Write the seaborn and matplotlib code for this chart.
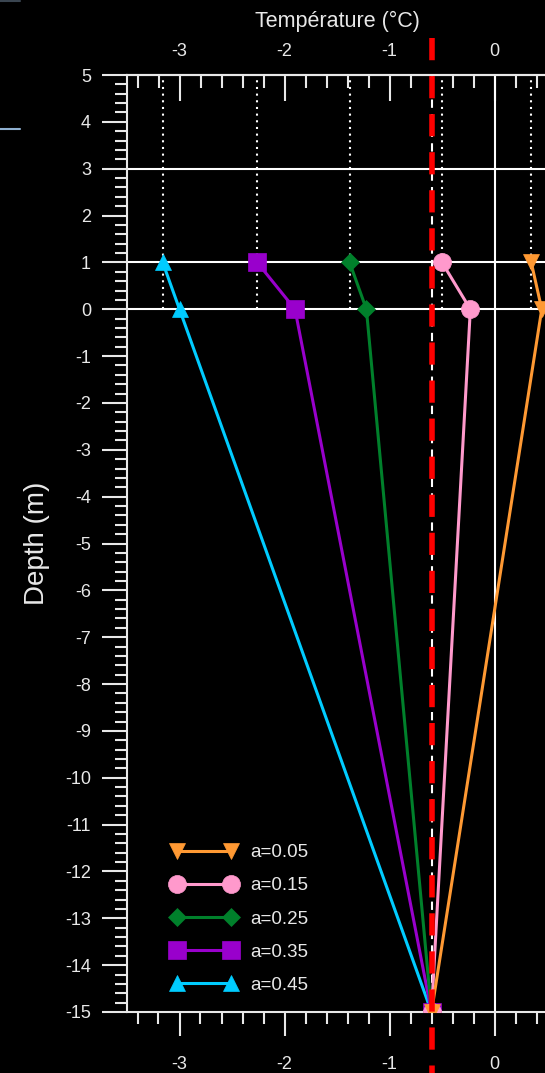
import matplotlib
matplotlib.use("Agg")
import matplotlib.pyplot as plt
from matplotlib.ticker import MultipleLocator, FixedLocator
from matplotlib.lines import Line2D
import seaborn as sns
import pandas as pd

# Ground temperature profiles (depth in m, temperature in °C) for each coefficient a
depths = [1, 0, -15]
alpha_labels = ["a=0.05", "a=0.15", "a=0.25", "a=0.35", "a=0.45"]
temp_a005 = [0.35, 0.45, -0.6]
temp_a015 = [-0.50, -0.23, -0.6]
temp_a025 = [-1.38, -1.22, -0.6]
temp_a035 = [-2.26, -1.90, -0.6]
temp_a045 = [-3.16, -3.00, -0.6]
freezing_temp = -0.6
grid_depths = [3, 1, 0]
temp_ticks = [-3, -2, -1, 0]

series_temps = [temp_a005, temp_a015, temp_a025, temp_a035, temp_a045]
colors = ["#FF9933", "#FF99CC", "#00802B", "#9900CC", "#00CCFF"]
markers = ["v", "o", "D", "s", "^"]
marker_sizes = [12, 13, 9, 13, 12]

rows = []
for lab, temps in zip(alpha_labels, series_temps):
    for d, t in zip(depths, temps):
        rows.append({"a": lab, "depth": d, "temp": t})
df = pd.DataFrame(rows)

sns.set_theme(style="ticks")
plt.rcParams["font.family"] = ["Liberation Sans", "DejaVu Sans"]
plt.rcParams["axes.unicode_minus"] = False

fg = "#E8E8E8"
fig = plt.figure(figsize=(5.45, 10.73), dpi=100, facecolor="black")
ax = fig.add_axes([127 / 545, 61 / 1073, 420 / 545, 937 / 1073])
ax.set_facecolor("black")

# profiles, drawn from the largest a so the smallest ends up on top
for i in reversed(range(len(alpha_labels))):
    sub = df[df["a"] == alpha_labels[i]]
    sns.lineplot(data=sub, x="temp", y="depth", ax=ax, sort=False, estimator=None,
                 color=colors[i], marker=markers[i], markersize=marker_sizes[i],
                 mec=colors[i], mew=0.5, lw=2.2, label=alpha_labels[i], zorder=4,
                 legend=False)

# reference lines
for g in grid_depths:
    ax.axhline(g, color="white", lw=1.5, zorder=1.5)
ax.axvline(0, color="white", lw=1.5, zorder=1.5)
surface_temps = [t[0] for t in series_temps]
ax.vlines(surface_temps, min(grid_depths), 5, colors="white", lw=1.5,
          linestyles=(0, (1, 2.2)), zorder=2)
ax.axvline(freezing_temp, color="white", lw=1.5, ls=(0, (4, 3)), zorder=2.5)
# freezing line, dashed from the top and running past both axis edges
ax.plot([freezing_temp, freezing_temp], [1.0395, -0.075], transform=ax.get_xaxis_transform(),
        color="#FF0000", lw=4, ls=(0, (4, 2.85)), clip_on=False, zorder=10)

ax.set_xlim(-3.5, 0.5)
ax.set_ylim(-15, 5)
ax.set_xlabel("")
ax.set_ylabel("")

# axes and ticks
for side in ["left", "bottom", "top"]:
    ax.spines[side].set_color(fg)
    ax.spines[side].set_linewidth(1.5)
ax.spines["right"].set_visible(False)

ax.xaxis.set_major_locator(FixedLocator(temp_ticks))
ax.xaxis.set_minor_locator(MultipleLocator(0.2))
ax.yaxis.set_major_locator(MultipleLocator(1))
ax.yaxis.set_minor_locator(MultipleLocator(0.2))
ax.tick_params(axis="x", which="major", direction="out", length=17, width=1.5,
               colors=fg, labelsize=13, pad=15, top=False, labeltop=False)
ax.tick_params(axis="x", which="minor", direction="out", length=8.5, width=1.5,
               colors=fg, top=False)
ax.tick_params(axis="y", which="major", direction="out", length=18, width=1.5,
               colors=fg, labelsize=13, pad=8, right=False)
ax.tick_params(axis="y", which="minor", direction="out", length=8.5, width=1.5,
               colors=fg, right=False)

sec = ax.secondary_xaxis("top")
sec.xaxis.set_major_locator(FixedLocator(temp_ticks))
sec.xaxis.set_minor_locator(MultipleLocator(0.2))
sec.tick_params(which="major", direction="in", length=19, width=1.5, colors=fg,
                labelsize=13, pad=11)
sec.tick_params(which="minor", direction="in", length=9.5, width=1.5, colors=fg)
sec.spines["top"].set_color(fg)
sec.spines["top"].set_linewidth(1.5)
sec.set_xlabel("Température (°C)", color=fg, fontsize=15.5, labelpad=11)

ax.set_ylabel("Depth (m)", color=fg, fontsize=20)
ax.yaxis.set_label_coords(-0.183, 0.5)

handles, labels = ax.get_legend_handles_labels()
order = [labels.index(l) for l in alpha_labels]
leg = ax.legend([handles[k] for k in order], [labels[k] for k in order],
                loc="upper left", bbox_to_anchor=(0.105, 0.179), frameon=False,
                fontsize=13.5, handlelength=3.5, handletextpad=0.7,
                labelspacing=0.85, borderpad=0, borderaxespad=0, numpoints=2,
                labelcolor=fg)

# small slide accents in the corner
fig.add_artist(Line2D([0, 20 / 545], [1 - 129 / 1073] * 2, color="#8FB0D0", lw=1.5,
                      transform=fig.transFigure))
fig.add_artist(Line2D([0, 20 / 545], [1 - 0.7 / 1073] * 2, color="#3A4550", lw=1.5,
                      transform=fig.transFigure))

fig.savefig("out.png", dpi=100, facecolor="black")
